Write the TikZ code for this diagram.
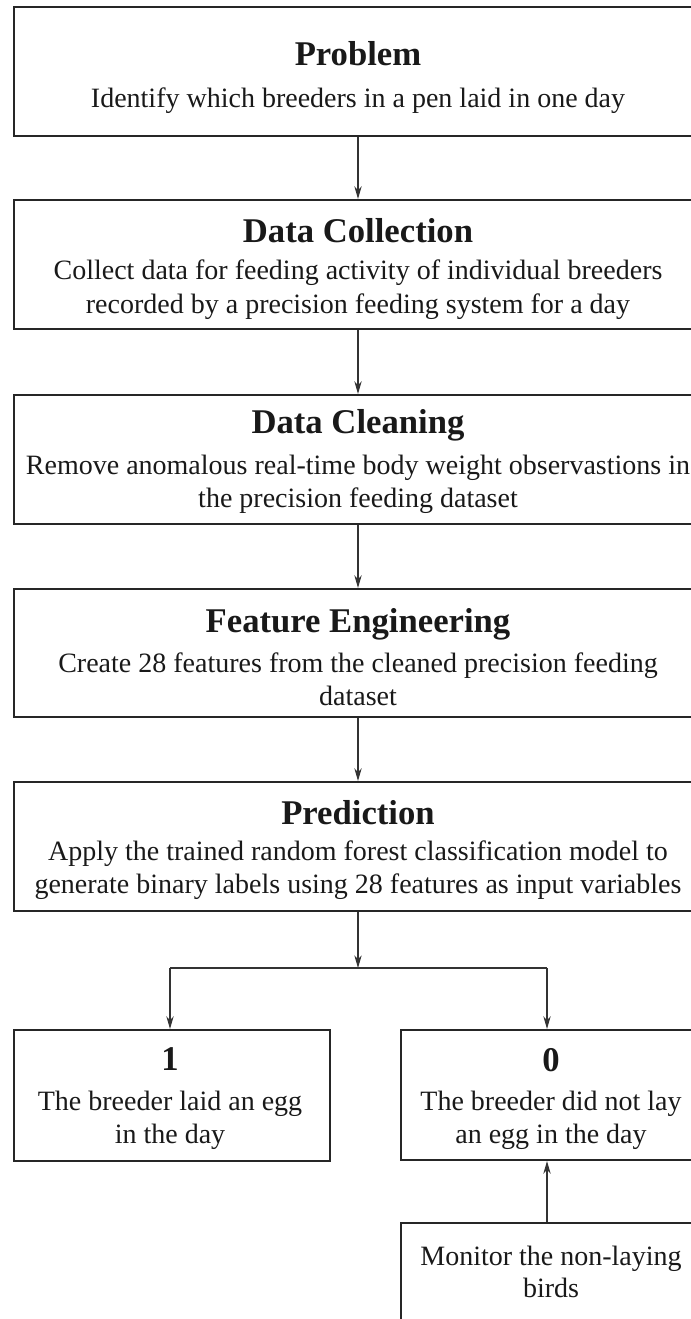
\documentclass[tikz,border=0pt]{standalone}
\usepackage{fontspec}
\setmainfont{Liberation Serif}
\usetikzlibrary{arrows.meta}

\begin{document}
\begin{tikzpicture}[x=0.75pt, y=-0.75pt,
  box/.style={draw=black!85, line width=1.6pt, inner sep=0pt},
  widebox/.style={box, minimum width=516pt, minimum height=96.75pt},
  ttl/.style={anchor=base, inner sep=0pt, text=black!90, font=\fontsize{26}{31}\selectfont\bfseries},
  txt/.style={anchor=base, inner sep=0pt, text=black!90, font=\fontsize{21}{25}\selectfont},
  link/.style={draw=black!80, line width=0.8pt, -{Stealth[length=9.5pt, width=5.5pt, inset=3pt]}},
  wire/.style={draw=black!80, line width=0.8pt}]

% page frame; the right edges of the boxes run past it
\useasboundingbox (0,0) rectangle (691,1319);
\clip (0,0) rectangle (691,1319);

% main pipeline boxes
\node[widebox] (prob)  at (358,71.5)  {};
\node[widebox] (coll)  at (358,264.5) {};
\node[widebox] (clean) at (358,459.5) {};
\node[widebox, minimum height=96pt] (feat) at (358,653) {};
\node[widebox] (pred)  at (358,846.5) {};

% outcome boxes
\node[box, minimum width=237pt, minimum height=98.25pt] (yes) at (172,1095.5) {};
\node[box, minimum width=225pt, minimum height=97.5pt]  (no)  at (551,1095)   {};
\node[box, minimum width=225pt, minimum height=97.5pt]  (mon) at (551,1288)   {};

% texts
\node[ttl] (prob-t)  at (358,66)  {Problem};
\node[txt] (prob-b)  at (358,108) {Identify which breeders in a pen laid in one day};

\node[ttl] (coll-t)  at (358,243) {Data Collection};
\node[txt] (coll-b1) at (358,280) {Collect data for feeding activity of individual breeders};
\node[txt] (coll-b2) at (358,313) {recorded by a precision feeding system for a day};

\node[ttl] (clean-t)  at (358,433) {Data Cleaning};
\node[txt] (clean-b1) at (358,474) {Remove anomalous real-time body weight observastions in};
\node[txt] (clean-b2) at (358,507) {the precision feeding dataset};

\node[ttl] (feat-t)  at (358,632) {Feature Engineering};
\node[txt] (feat-b1) at (358,672) {Create 28 features from the cleaned precision feeding};
\node[txt] (feat-b2) at (358,705) {dataset};

\node[ttl] (pred-t)  at (358,824) {Prediction};
\node[txt] (pred-b1) at (358,860) {Apply the trained random forest classification model to};
\node[txt] (pred-b2) at (358,893) {generate binary labels using 28 features as input variables};

\node[ttl] (yes-t)  at (170,1070) {1};
\node[txt] (yes-b1) at (170,1110) {The breeder laid an egg};
\node[txt] (yes-b2) at (170,1143) {in the day};

\node[ttl] (no-t)  at (551,1071) {0};
\node[txt] (no-b1) at (551,1110) {The breeder did not lay};
\node[txt] (no-b2) at (551,1143) {an egg in the day};

\node[txt] (mon-b1) at (551,1265) {Monitor the non-laying};
\node[txt] (mon-b2) at (551,1297) {birds};

% connectors
\draw[link] (prob)  -- (coll);
\draw[link] (coll)  -- (clean);
\draw[link] (clean) -- (feat);
\draw[link] (feat)  -- (pred);

\coordinate (split) at (358,968);
\coordinate (jl) at (170,968);
\coordinate (jr) at (547,968);
\draw[link] (pred.south) -- (split);
\draw[wire] (jl) -- (jr);
\draw[link] (jl) -- (jl |- yes.north);
\draw[link] (jr) -- (jr |- no.north);
\draw[link] (jr |- mon.north) -- (jr |- no.south);
\end{tikzpicture}
\end{document}
